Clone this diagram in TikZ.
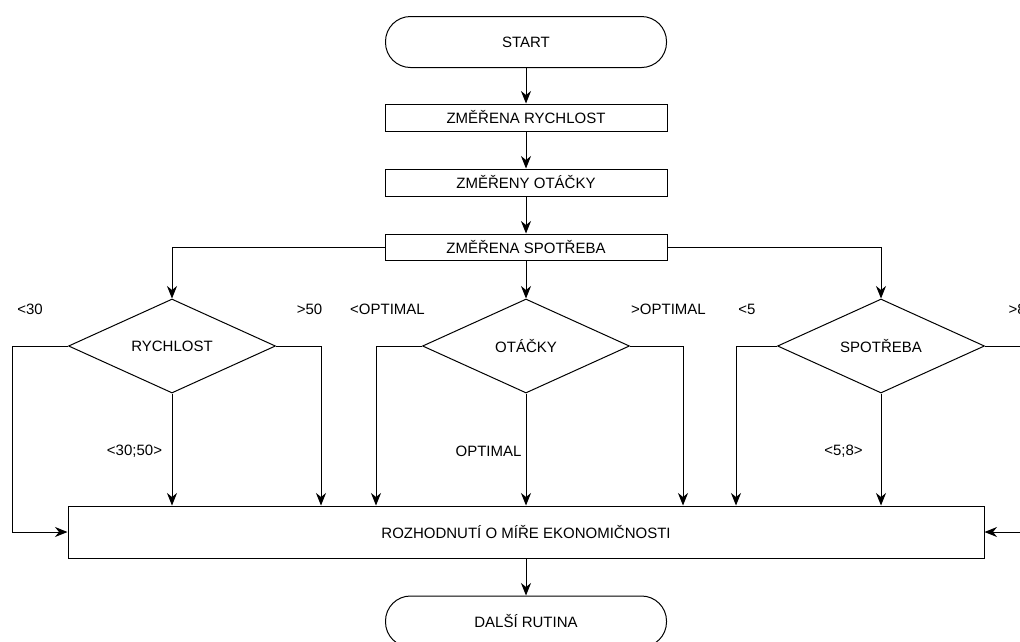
\documentclass[tikz,border=0pt]{standalone}
\usepackage{fontspec}
\setmainfont{Liberation Sans}
\usetikzlibrary{arrows.meta,shapes.geometric}

\begin{document}
\begin{tikzpicture}[x=1pt,y=-1pt,
  line width=1pt,
  every node/.style={font=\fontsize{15}{18}\selectfont, inner sep=0pt},
  terminal/.style={draw, rectangle, rounded corners=25pt,
    minimum width=281pt, minimum height=51pt},
  process/.style={draw, rectangle, minimum width=282pt, minimum height=27pt},
  decision/.style={draw, diamond, aspect=2.2, minimum width=207pt, minimum height=94pt},
  lbl/.style={},
  flow/.style={-{Stealth[length=12.5pt,width=10pt,inset=4pt]}}
]
\clip (0,0) rectangle (1020,641);

% main column
\node[terminal] (start) at (526,42) {START};
\node[process] (m1) at (526,117.5) {ZMĚŘENA RYCHLOST};
\node[process] (m2) at (526,182.5) {ZMĚŘENY OTÁČKY};
\node[process, minimum height=26pt] (m3) at (526,247) {ZMĚŘENA SPOTŘEBA};

% decisions
\node[decision] (d1) at (172,346) {RYCHLOST};
\node[decision] (d2) at (526,346) {OTÁČKY};
\node[decision] (d3) at (881,346) {SPOTŘEBA};

% result and continuation
\node[draw, rectangle, minimum width=916pt, minimum height=52pt] (big) at (526,532)
  {ROZHODNUTÍ O MÍŘE EKONOMIČNOSTI};
\node[terminal] (end) at (526,621.5) {DALŠÍ RUTINA};

% bend points of the side branches
\coordinate (l1) at (12,346);
\coordinate (r1) at (321,346);
\coordinate (l2) at (376,346);
\coordinate (r2) at (683,346);
\coordinate (l3) at (736,346);
\coordinate (r3) at (1040,346);

% sequence
\draw[flow] (start) -- (m1);
\draw[flow] (m1) -- (m2);
\draw[flow] (m2) -- (m3);
\draw[flow] (m3) -- (d2);
\draw[flow] (m3.west) -| (d1.north);
\draw[flow] (m3.east) -| (d3.north);

% RYCHLOST branches
\draw[flow] (d1.west) -- (l1) |- (big.west);
\draw[flow] (d1.east) -- (r1) -- (r1 |- big.north);
\draw[flow] (d1.south) -- (d1.south |- big.north);

% OTÁČKY branches
\draw[flow] (d2.west) -- (l2) -- (l2 |- big.north);
\draw[flow] (d2.east) -- (r2) -- (r2 |- big.north);
\draw[flow] (d2.south) -- (d2.south |- big.north);

% SPOTŘEBA branches
\draw[flow] (d3.west) -- (l3) -- (l3 |- big.north);
\draw[flow] (d3.east) -- (r3) |- (big.east);
\draw[flow] (d3.south) -- (d3.south |- big.north);

\draw[flow] (big) -- (end);

% branch labels
\node[lbl] (t1) at (30,309) {<30};
\node[lbl] (t2) at (309.5,309) {>50};
\node[lbl] (t3) at (387.5,309) {<OPTIMAL};
\node[lbl] (t4) at (668.5,309) {>OPTIMAL};
\node[lbl] (t5) at (747,309) {<5};
\node[lbl, anchor=west] (t6) at (1008,309) {>8};
\node[lbl] (t7) at (134.5,451) {<30;50>};
\node[lbl] (t8) at (488.5,451) {OPTIMAL};
\node[lbl] (t9) at (843.5,451) {<5;8>};
\end{tikzpicture}
\end{document}
